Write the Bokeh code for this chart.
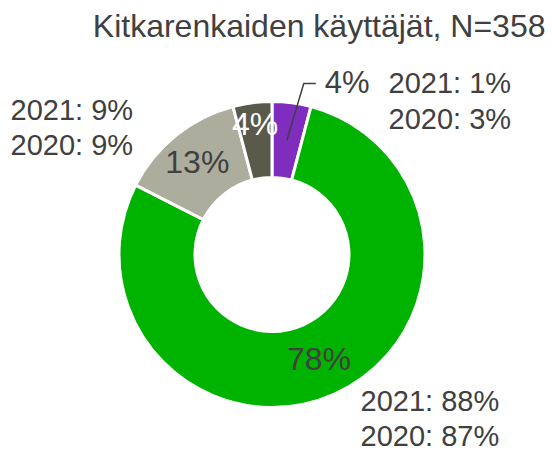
import math
from bokeh.plotting import figure
from bokeh.models import Range1d
from bokeh.embed import file_html
from bokeh.resources import INLINE
from bokeh.core.properties import value

# ---- data ----
title = "Kitkarenkaiden käyttäjät, N=358"
shares = [4.1, 78.4, 13.4, 4.1]            # clockwise from 12 o'clock
colors = ["#7E2DBE", "#00B300", "#ADAD9D", "#5A5A4B"]
label_colors = ["#404040", "#404040", "#404040", "#FFFFFF"]
prev_2021 = ["1%", "88%", "9%", None]
prev_2020 = ["3%", "87%", "9%", None]

FONT = value("Liberation Sans")
TXT = "#404040"

W, H = 552, 451
p = figure(width=W, height=H, x_range=Range1d(0, W), y_range=Range1d(0, H),
           output_backend="svg", toolbar_location=None, min_border=0)
p.axis.visible = False
p.grid.visible = False
p.outline_line_color = None
p.background_fill_color = "white"

cx, cy = 271.5, 197.0
r_in, r_out = 77, 153
r_mid = (r_in + r_out) / 2
total = sum(shares)

starts, ends, mids = [], [], []
cum = 0.0
for s in shares:
    a0 = math.pi / 2 - 2 * math.pi * cum / total
    a1 = math.pi / 2 - 2 * math.pi * (cum + s) / total
    starts.append(a0); ends.append(a1); mids.append((a0 + a1) / 2)
    cum += s

p.annular_wedge(x=[cx] * 4, y=[cy] * 4, inner_radius=r_in, outer_radius=r_out,
                start_angle=starts, end_angle=ends, direction="clock",
                fill_color=colors, line_color="white", line_width=3)

labels = [f"{round(v)}%" for v in shares]

# in-slice labels (green, light gray, dark gray)
label_r = [None, r_mid, r_mid + 4, r_mid + 17]
for i in (1, 2, 3):
    lx = cx + label_r[i] * math.cos(mids[i])
    ly = cy + label_r[i] * math.sin(mids[i])
    p.text(x=[lx], y=[ly], text=[labels[i]], text_font=FONT, text_font_size="32px",
           text_color=label_colors[i], text_align="center", text_baseline="middle")

# purple label outside with leader line
px0 = cx + r_mid * math.cos(mids[0])
py0 = cy + r_mid * math.sin(mids[0])
ex, ey = px0 + 17, py0 + 57
p.line(x=[px0, ex, ex + 12], y=[py0, ey, ey], line_color=TXT, line_width=1.5)
p.text(x=[ex + 21], y=[ey + 0.5], text=[labels[0]], text_font=FONT, text_font_size="31px",
       text_color=TXT, text_align="left", text_baseline="middle")

# previous years annotations (x, y of first line centre, line gap)
ann = [
    (388, 368.5, 35.5, prev_2021[0], prev_2020[0]),
    (360, 50.5, 34.5, prev_2021[1], prev_2020[1]),
    (10, 342, 35.5, prev_2021[2], prev_2020[2]),
]
for x0, y0, gap, a, b in ann:
    p.text(x=[x0, x0], y=[y0, y0 - gap], text=[f"2021: {a}", f"2020: {b}"],
           text_font=FONT, text_font_size="29px", text_color=TXT,
           text_align="left", text_baseline="middle")

p.text(x=[545], y=[426], text=[title], text_font=FONT, text_font_size="32px",
       text_color=TXT, text_align="right", text_baseline="middle")

open("out.html", "w").write(file_html(p, INLINE))
